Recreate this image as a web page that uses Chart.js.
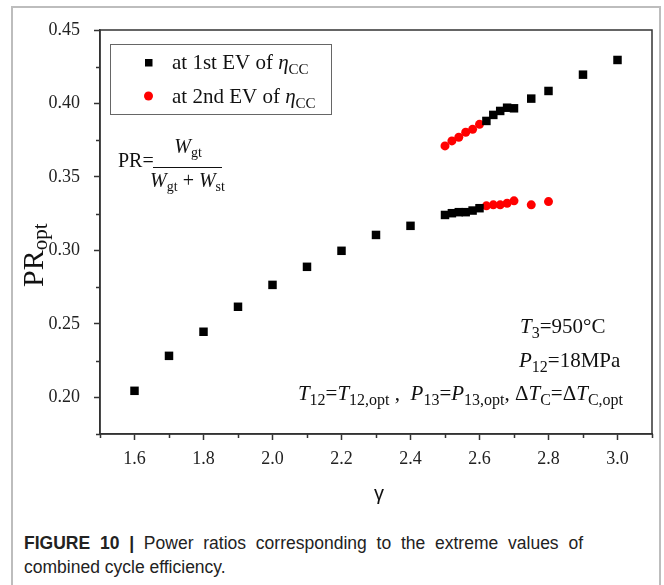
<!DOCTYPE html>
<html><head><meta charset="utf-8">
<script src="https://cdn.jsdelivr.net/npm/chart.js@4.4.1/dist/chart.umd.min.js"></script>
<style>
html,body{margin:0;padding:0;background:#fff;}
#wrap{position:relative;width:664px;height:585px;overflow:hidden;background:#fff;}
#frame{position:absolute;left:11px;top:6px;width:650px;height:620px;border:2px solid #bdbdbd;box-sizing:border-box;}
#c{position:absolute;left:0;top:0;}
.cap{position:absolute;left:24px;font-family:"Liberation Sans",Arial,sans-serif;font-size:17.5px;line-height:24px;color:#222;white-space:nowrap;}
#cap1{top:531px;width:559px;text-align:justify;text-align-last:justify;white-space:normal;}
#cap2{top:555px;}
</style></head>
<body><div id="wrap"><div id="frame"></div><canvas id="c" width="664" height="520" style="width:664px;height:520px"></canvas>
<div id="cap1" class="cap"><b>FIGURE 10 |</b> Power ratios corresponding to the extreme values of</div>
<div id="cap2" class="cap">combined cycle efficiency.</div></div>
<script>
// ---- data ----
const gamma1st = [1.6,1.7,1.8,1.9,2.0,2.1,2.2,2.3,2.4,2.5,2.52,2.54,2.56,2.58,2.6,2.62,2.64,2.66,2.68,2.7,2.75,2.8,2.9,3.0];
const pr1st    = [0.2044,0.2282,0.2446,0.2616,0.2765,0.2888,0.2997,0.3105,0.3167,0.3241,0.3253,0.3260,0.3260,0.3271,0.3287,0.3881,0.3922,0.3949,0.3971,0.3967,0.4033,0.4085,0.4196,0.4296];
const gamma2nd = [2.5,2.52,2.54,2.56,2.58,2.6,2.62,2.64,2.66,2.68,2.7,2.75,2.8];
const pr2nd    = [0.3711,0.3745,0.3770,0.3804,0.3824,0.3858,0.3303,0.3310,0.3310,0.3321,0.3337,0.3310,0.3332];
const xTicks = [1.6,1.8,2.0,2.2,2.4,2.6,2.8,3.0];
const xTickLabels = ['1.6','1.8','2.0','2.2','2.4','2.6','2.8','3.0'];
const xMinor = [1.5,1.7,1.9,2.1,2.3,2.5,2.7,2.9,3.1];
const yTicks = [0.20,0.25,0.30,0.35,0.40,0.45];
const yTickLabels = ['0.20','0.25','0.30','0.35','0.40','0.45'];
const yMinor = [0.175,0.225,0.275,0.325,0.375,0.425];

const SERIF = '"Liberation Serif","Times New Roman",serif';
const R = n => `${n}px ${SERIF}`;
const I = n => `italic ${n}px ${SERIF}`;

function rich(ctx, x, y, parts, align){
  let w = 0;
  parts.forEach(p => { ctx.font = p[1]; w += ctx.measureText(p[0]).width; });
  let cx = align === 'right' ? x - w : align === 'center' ? x - w/2 : x;
  ctx.textAlign = 'left';
  parts.forEach(p => { ctx.font = p[1]; ctx.fillText(p[0], cx, y + (p[2]||0)); cx += ctx.measureText(p[0]).width; });
  return w;
}

const decor = {
  id: 'decor',
  afterDraw(chart){
    const {ctx, chartArea:a, scales:{x, y}} = chart;
    ctx.save();
    ctx.strokeStyle = '#333'; ctx.lineWidth = 1.5;
    ctx.strokeRect(a.left, a.top, a.right - a.left, a.bottom - a.top);
    // minor ticks
    ctx.beginPath();
    xMinor.forEach(v => { const px = Math.round(x.getPixelForValue(v)) + 0.5; ctx.moveTo(px, a.bottom); ctx.lineTo(px, a.bottom + 4); });
    yMinor.forEach(v => { const py = Math.round(y.getPixelForValue(v)) + 0.5; ctx.moveTo(a.left, py); ctx.lineTo(a.left - 4, py); });
    ctx.stroke();

    ctx.fillStyle = '#111'; ctx.textBaseline = 'alphabetic';
    // legend
    ctx.strokeStyle = '#666'; ctx.lineWidth = 1;
    ctx.strokeRect(110.5, 44.5, 221, 70);
    ctx.fillStyle = '#000';
    ctx.fillRect(145, 59, 7.5, 7.5);
    ctx.fillStyle = '#ff0000';
    ctx.beginPath(); ctx.arc(148.5, 96, 4.5, 0, Math.PI*2); ctx.fill();
    ctx.fillStyle = '#111';
    rich(ctx, 172, 69, [['at 1st EV of ', R(21)], ['η', I(21)], ['CC', R(15), 5]]);
    rich(ctx, 172, 103, [['at 2nd EV of ', R(21)], ['η', I(21)], ['CC', R(15), 5]]);

    // formula
    rich(ctx, 118, 167, [['PR=', R(20)]]);
    ctx.strokeStyle = '#111'; ctx.lineWidth = 1;
    ctx.beginPath(); ctx.moveTo(153, 167.5); ctx.lineTo(222, 167.5); ctx.stroke();
    rich(ctx, 188, 153, [['W', I(20)], ['gt', R(14), 4]], 'center');
    rich(ctx, 187.5, 187, [['W', I(20)], ['gt', R(14), 4], [' + ', R(20)], ['W', I(20)], ['st', R(14), 4]], 'center');

    // conditions
    rich(ctx, 520, 333, [['T', I(21)], ['3', R(16), 5], ['=950°C', R(21)]]);
    rich(ctx, 519, 367, [['P', I(21)], ['12', R(16), 5], ['=18MPa', R(21)]]);
    rich(ctx, 623, 400, [
      ['T', I(21)], ['12', R(16), 5], ['=', R(21)], ['T', I(21)], ['12,opt', R(16), 5], [' ,  ', R(21)],
      ['P', I(21)], ['13', R(16), 5], ['=', R(21)], ['P', I(21)], ['13,opt', R(16), 5], [', ', R(21)],
      ['Δ', R(21)], ['T', I(21)], ['C', R(16), 5], ['=', R(21)], ['Δ', R(21)], ['T', I(21)], ['C,opt', R(16), 5]
    ], 'right');

    // axis titles
    ctx.save();
    ctx.translate(43, 287); ctx.rotate(-Math.PI/2);
    rich(ctx, 0, 0, [['PR', R(30)], ['opt', R(21), 4]]);
    ctx.restore();
    ctx.font = '20px "Liberation Sans",Arial,sans-serif';
    ctx.textAlign = 'center'; ctx.textBaseline = 'middle';
    ctx.fillText('γ', (a.left + a.right)/2 + 3, 494);
    ctx.restore();
  }
};

new Chart(document.getElementById('c'), {
  type: 'scatter',
  data: {
    datasets: [
      { label: 'at 1st EV', data: gamma1st.map((g,i)=>({x:g, y:pr1st[i]})), pointStyle:'rect', pointRadius:6, pointHoverRadius:6, backgroundColor:'#000', borderWidth:0 },
      { label: 'at 2nd EV', data: gamma2nd.map((g,i)=>({x:g, y:pr2nd[i]})), pointStyle:'circle', pointRadius:4.5, pointHoverRadius:4.5, backgroundColor:'#ff0000', borderWidth:0 }
    ]
  },
  options: {
    responsive: false, animation: false, devicePixelRatio: 1,
    layout: { padding: { left:0, right:12, top:30, bottom:6 } },
    plugins: { legend:{display:false}, tooltip:{enabled:false} },
    scales: {
      x: { type:'linear', min:1.5, max:3.1,
        afterBuildTicks: s => { s.ticks = xTicks.map(v => ({value:v})); },
        ticks: { callback:(v,i)=>xTickLabels[i], font:{family:SERIF, size:18}, color:'#222', padding:8, maxRotation:0, autoSkip:false },
        grid: { drawOnChartArea:false, tickLength:6, tickColor:'#333', tickWidth:1.5 },
        border: { color:'#333', width:1.5 },
        afterFit: s => { s.height = 80; }
      },
      y: { type:'linear', min:0.175, max:0.45,
        afterBuildTicks: s => { s.ticks = yTicks.map(v => ({value:v})); },
        ticks: { callback:(v,i)=>yTickLabels[i], font:{family:SERIF, size:18}, color:'#222', padding:14, autoSkip:false },
        grid: { drawOnChartArea:false, tickLength:6, tickColor:'#333', tickWidth:1.5 },
        border: { color:'#333', width:1.5 },
        afterFit: s => { s.width = 100; }
      }
    }
  },
  plugins: [decor]
});
</script>
</body></html>
